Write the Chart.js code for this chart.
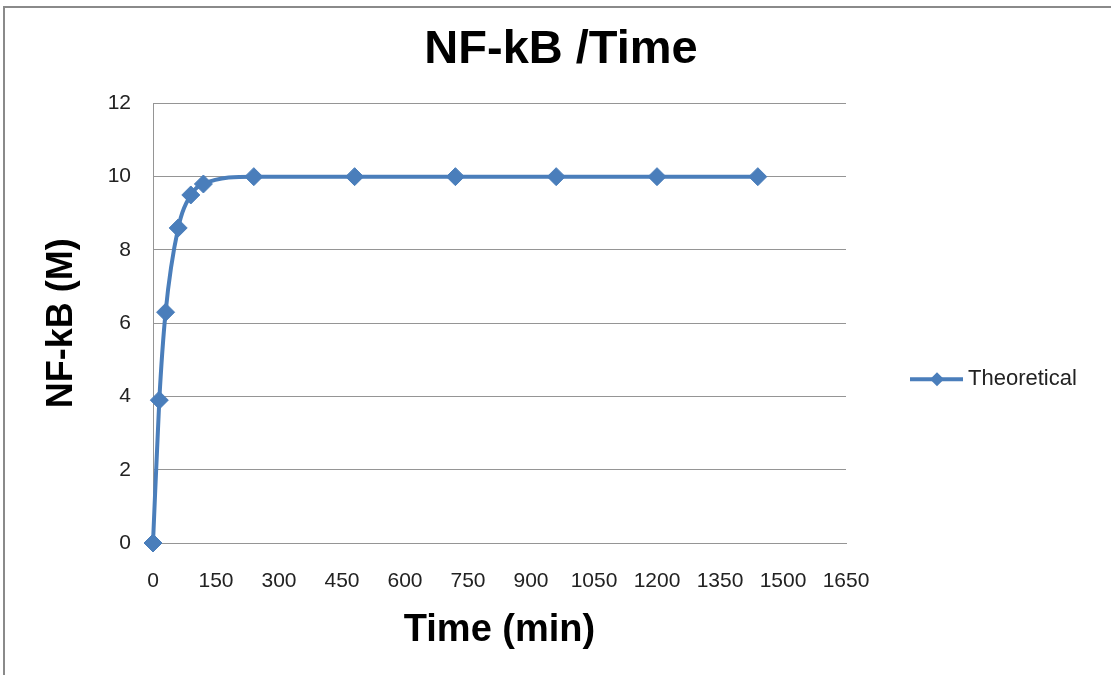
<!DOCTYPE html>
<html>
<head>
<meta charset="utf-8">
<title>NF-kB /Time</title>
<script src="https://cdn.jsdelivr.net/npm/chart.js@4/dist/chart.umd.min.js"></script>
<style>
    html, body { margin: 0; padding: 0; background: #fff; overflow: hidden; }
    canvas { display: block; }
</style>
</head>
<body>
<canvas id="nfkbChart" width="1111" height="675"></canvas>
<script>
// Data
const times = [0, 15, 30, 60, 90, 120, 240, 480, 720, 960, 1200, 1440];
const nfkb = [0, 3.9, 6.3, 8.6, 9.5, 9.8, 10, 10, 10, 10, 10, 10];
const seriesLabel = 'Theoretical';
const xTicks = { min: 0, max: 1650, step: 150 };
const yTicks = { min: 0, max: 12, step: 2 };

const lineColor = '#4a7ebb';
const gridColor = '#959595';
const fontFamily = '"Liberation Sans", Arial, sans-serif';

// grey frame of the chart object (only top and left edges show)
const framePlugin = {
    id: 'frame',
    beforeDraw(chart) {
        const ctx = chart.ctx;
        ctx.save();
        ctx.fillStyle = '#fff';
        ctx.fillRect(0, 0, chart.width, chart.height);
        ctx.strokeStyle = '#8a8a8a';
        ctx.lineWidth = 2;
        ctx.beginPath();
        ctx.moveTo(4, chart.height);
        ctx.lineTo(4, 7);
        ctx.lineTo(chart.width, 7);
        ctx.stroke();
        ctx.restore();
    }
};

// Excel style legend: line with a diamond, to the right of the plot
const legendPlugin = {
    id: 'sideLegend',
    afterDraw(chart) {
        const ctx = chart.ctx;
        const ds = chart.data.datasets[0];
        const area = chart.chartArea;
        const x0 = area.right + 64;
        const y = (area.top + area.bottom) / 2 + 56;
        ctx.save();
        ctx.strokeStyle = ds.borderColor;
        ctx.lineWidth = 4;
        ctx.beginPath();
        ctx.moveTo(x0, y);
        ctx.lineTo(x0 + 53, y);
        ctx.stroke();
        ctx.fillStyle = ds.borderColor;
        ctx.beginPath();
        ctx.moveTo(x0 + 27, y - 7);
        ctx.lineTo(x0 + 34, y);
        ctx.lineTo(x0 + 27, y + 7);
        ctx.lineTo(x0 + 20, y);
        ctx.closePath();
        ctx.fill();
        ctx.fillStyle = '#222';
        ctx.font = '22px ' + fontFamily;
        ctx.textBaseline = 'middle';
        ctx.textAlign = 'left';
        ctx.fillText(ds.label, x0 + 58, y);
        ctx.restore();
    }
};

const ctx = document.getElementById('nfkbChart').getContext('2d');
new Chart(ctx, {
    type: 'line',
    data: {
        datasets: [{
            label: seriesLabel,
            data: times.map((t, i) => ({ x: t, y: nfkb[i] })),
            borderColor: lineColor,
            backgroundColor: lineColor,
            borderWidth: 4,
            pointStyle: 'rectRot',
            pointRadius: 9,
            pointBorderWidth: 1,
            cubicInterpolationMode: 'monotone',
            clip: false,
            fill: false
        }]
    },
    options: {
        responsive: false,
        animation: false,
        layout: { padding: { left: 11, top: 0, right: 0, bottom: 0 } },
        plugins: {
            legend: { display: false },
            tooltip: { enabled: false },
            title: {
                display: true,
                text: 'NF-kB /Time',
                color: '#000',
                font: { family: fontFamily, size: 47, weight: 'bold' },
                padding: { top: 22, bottom: 25 }
            }
        },
        scales: {
            x: {
                type: 'linear',
                min: xTicks.min,
                max: xTicks.max,
                afterFit(scale) { scale.height = 132; },
                grid: { display: false, drawTicks: false },
                border: { display: true, color: gridColor, width: 1 },
                ticks: {
                    stepSize: xTicks.step,
                    color: '#222',
                    padding: 26,
                    maxRotation: 0,
                    autoSkip: false,
                    font: { family: fontFamily, size: 21 },
                    callback: (v) => String(v)
                },
                title: {
                    display: true,
                    text: 'Time (min)',
                    color: '#000',
                    font: { family: fontFamily, size: 38, weight: 'bold' },
                    padding: { top: 0, bottom: 22 }
                }
            },
            y: {
                min: yTicks.min,
                max: yTicks.max,
                afterFit(scale) { scale.width = 142; },
                grid: { color: gridColor, lineWidth: 1, drawTicks: false },
                border: { display: true, color: gridColor, width: 1 },
                ticks: {
                    stepSize: yTicks.step,
                    color: '#222',
                    padding: 22,
                    font: { family: fontFamily, size: 21 }
                },
                title: {
                    display: true,
                    text: 'NF-kB (M)',
                    color: '#000',
                    font: { family: fontFamily, size: 36, weight: 'bold' },
                    padding: { top: 29, bottom: 0 }
                }
            },
            // empty axis that only keeps room for the legend on the right
            legendSpace: {
                type: 'linear',
                position: 'right',
                afterFit(scale) { scale.width = 265; },
                grid: { display: false, drawTicks: false },
                border: { display: false },
                ticks: { display: false }
            }
        }
    },
    plugins: [framePlugin, legendPlugin]
});
</script>
</body>
</html>
